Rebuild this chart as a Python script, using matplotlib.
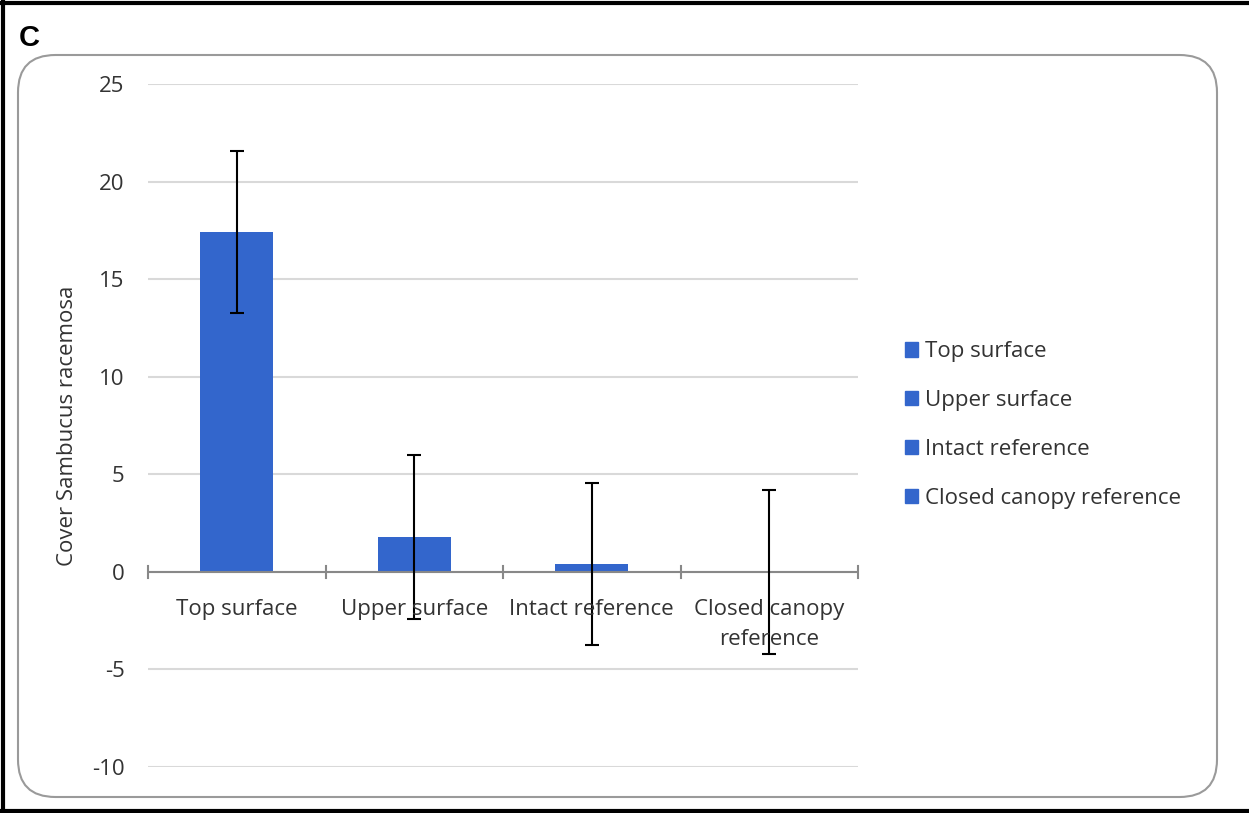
import matplotlib.pyplot as plt
from matplotlib.patches import FancyBboxPatch, Patch
from matplotlib.lines import Line2D

categories = ['Top surface', 'Upper surface', 'Intact reference', 'Closed canopy\nreference']
legend_labels = ['Top surface', 'Upper surface', 'Intact reference', 'Closed canopy reference']
cover = [17.4, 1.8, 0.38, 0.0]
err = [4.15, 4.2, 4.15, 4.2]
yticks = [-10, -5, 0, 5, 10, 15, 20, 25]

plt.rcParams['font.family'] = ['Open Sans', 'DejaVu Sans']
plt.rcParams['axes.unicode_minus'] = False
blue = '#3366cc'
txt = '#333333'
fs = 16

W, H = 1249, 813
fig = plt.figure(figsize=(W / 100, H / 100), dpi=100)
fig.set_facecolor('w')

# outer black frame (left, top, bottom)
for xs, ys in [([3 / W, 3 / W], [0, 1 - 2 / H]),
               ([0, 1], [1 - 3 / H, 1 - 3 / H]),
               ([0, 1], [2 / H, 2 / H])]:
    fig.add_artist(Line2D(xs, ys, transform=fig.transFigure, color='k', lw=3))

# rounded chart-area border
fig.add_artist(FancyBboxPatch((18 / W, (H - 797) / H), (1217 - 18) / W, (797 - 55) / H,
                              boxstyle='round,pad=0,rounding_size=0.03',
                              transform=fig.transFigure, fc='none', ec='#9a9a9a', lw=1.5,
                              mutation_aspect=W / H))

fig.text(19 / W, 1 - 38 / H, 'C', fontsize=21, fontweight='bold', va='center',
         family='Liberation Sans', color='k')

ax = fig.add_axes([148 / W, (H - 767) / H, 710 / W, 683 / H])
x = range(len(categories))
ax.bar(x, cover, width=0.41, color=blue, zorder=2)
ax.errorbar(x, cover, yerr=err, fmt='none', ecolor='k', elinewidth=1.5,
            capsize=5, capthick=1.5, zorder=3)

ax.set_xlim(-0.5, 3.5)
ax.set_ylim(-10, 25)
ax.set_yticks(yticks)
ax.yaxis.grid(True, color='#d9d9d9', lw=1.5, zorder=0)
ax.set_axisbelow(True)
for s in ax.spines.values():
    s.set_visible(False)
ax.tick_params(axis='y', length=0, pad=17, labelsize=fs, labelcolor=txt)
ax.set_xticks([])

# x axis at zero with boundary ticks
ax.axhline(0, color='#888888', lw=1.5, zorder=2.5)
for b in [-0.5, 0.5, 1.5, 2.5, 3.5]:
    ax.plot([b, b], [-0.3, 0.3], color='#888888', lw=1.5, zorder=2.5, clip_on=False)
for i, c in enumerate(categories):
    ax.text(i, -1.4, c, ha='center', va='top', fontsize=fs, color=txt, linespacing=1.55)

ax.set_ylabel('Cover Sambucus racemosa', fontsize=fs, color=txt)
ax.yaxis.set_label_coords(-70 / 710, 0.5)

handles = [Patch(color=blue, label=l) for l in legend_labels]
fig.legend(handles=handles, loc='center left', bbox_to_anchor=(885 / W, 1 - 425 / H),
           frameon=False, fontsize=fs, labelcolor=txt, handlelength=0.6, handleheight=0.6,
           handletextpad=0.3, labelspacing=1.25)

fig.savefig('out.png', dpi=100)
